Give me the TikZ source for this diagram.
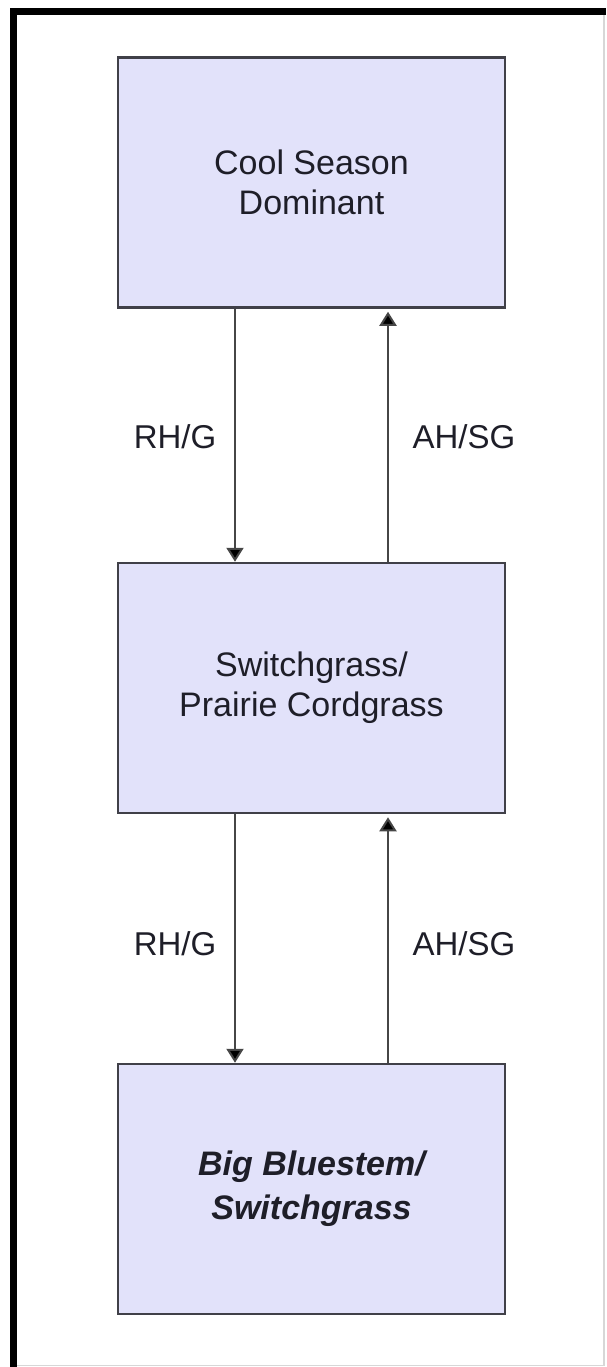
\documentclass[tikz,border=0pt]{standalone}
\usepackage{fontspec}
\setmainfont{Liberation Sans}
\usetikzlibrary{arrows.meta}
\definecolor{boxfill}{RGB}{226,226,250}
\definecolor{boxline}{RGB}{64,64,72}
\definecolor{linegray}{RGB}{70,70,70}
\definecolor{textdark}{RGB}{30,30,40}
\definecolor{edgegray}{RGB}{215,215,215}
\tikzset{
  statebox/.style={draw=boxline, line width=1.25pt, fill=boxfill, rectangle,
    minimum width=193.5pt, minimum height=125pt, align=center,
    text=textdark, font=\fontsize{17}{20}\selectfont},
  trans/.style={draw=linegray, line width=1pt,
    -{Triangle[length=7pt,width=8.5pt,fill=black]}},
  translabel/.style={text=textdark, font=\fontsize{16.5}{20}\selectfont, inner sep=0pt}
}
\begin{document}
\begin{tikzpicture}[x=0.5pt, y=-0.5pt]
  \useasboundingbox (0,0) rectangle (606,1367);
  % page frame
  \draw[edgegray, line width=0.6pt] (604,11.5) -- (604,1365.5) -- (13.5,1365.5);
  \draw[black, line width=3.5pt] (13.5,1367) -- (13.5,11.5) -- (606,11.5);

  % states
  \node[statebox] (cool) at (311.5,182.5) {Cool Season\\Dominant};
  \node[statebox] (switch) at (311.5,688) {Switchgrass/\\Prairie Cordgrass};
  \node[statebox, font=\fontsize{17}{22}\selectfont\bfseries\itshape] (big) at (311.5,1189) {Big Bluestem/\\Switchgrass};

  % transitions
  \draw[trans] ([xshift=-38.25pt]cool.south) -- ([xshift=-38.25pt]switch.north);
  \draw[trans, shorten >=1.5pt] ([xshift=38.25pt]switch.north) -- ([xshift=38.25pt]cool.south);
  \draw[trans] ([xshift=-38.25pt]switch.south) -- ([xshift=-38.25pt]big.north);
  \draw[trans, shorten >=1.5pt] ([xshift=38.25pt]big.north) -- ([xshift=38.25pt]switch.south);

  % transition labels
  \node[translabel] (rg1) at (175,437) {RH/G};
  \node[translabel] (as1) at (464,437) {AH/SG};
  \node[translabel] (rg2) at (175,944) {RH/G};
  \node[translabel] (as2) at (464,944) {AH/SG};
\end{tikzpicture}
\end{document}
